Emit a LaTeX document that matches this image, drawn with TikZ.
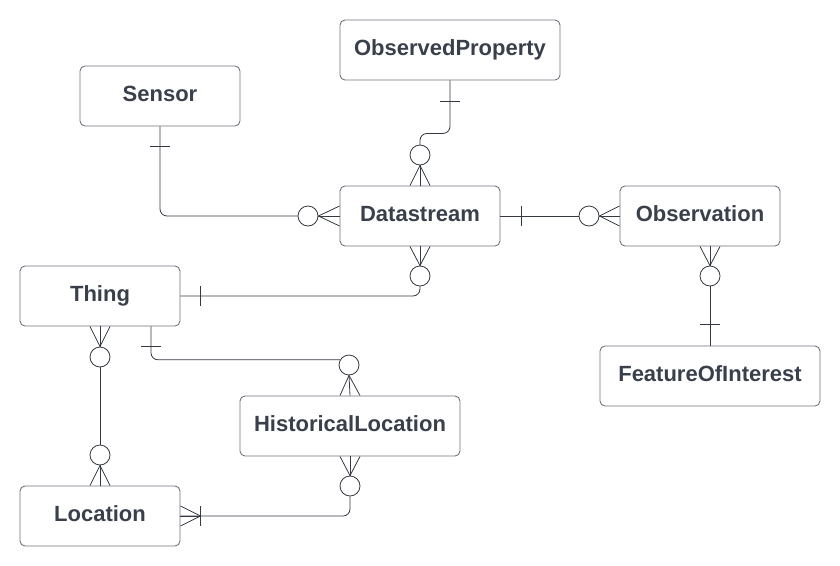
\documentclass[tikz,border=0pt]{standalone}
\usepackage{fontspec}
\setmainfont{Liberation Sans}
\usepackage{tikz}
\usetikzlibrary{calc}
\definecolor{boxgray}{RGB}{112,116,124}
\definecolor{linedark}{RGB}{52,57,66}
\definecolor{textdark}{RGB}{58,64,75}
\tikzset{
  entity/.style={rectangle, draw=boxgray, fill=white,
    rounded corners=5pt, minimum width=160pt, minimum height=60pt,
    text height=16pt, text depth=6pt,
    font=\bfseries\fontsize{22}{26}\selectfont, text=textdark, line width=0.9pt},
  wide/.style={minimum width=220pt},
  zero/.style={circle, draw=linedark, fill=white,
    minimum size=20pt, inner sep=0pt, line width=0.8pt},
  rel/.style={draw=linedark, line width=0.8pt, rounded corners=7pt},
  bar/.style={draw=linedark, line width=0.8pt}
}

\begin{document}
\begin{tikzpicture}[x=1pt, y=-1pt]
  \useasboundingbox (0,0) rectangle (840,565);
  % entities
  \node[entity, wide] (op) at (450,50) {ObservedProperty};
  \node[entity] (sensor) at (160,96) {Sensor};
  \node[entity] (ds) at (420,216) {Datastream};
  \node[entity] (obs) at (700,216) {Observation};
  \node[entity, wide] (foi) at (710,376) {FeatureOfInterest};
  \node[entity] (thing) at (100,296) {Thing};
  \node[entity, wide] (hl) at (350,426) {HistoricalLocation};
  \node[entity] (loc) at (100,516) {Location};

  % ObservedProperty -- Datastream
  \draw[rel] (op.south) -- ++(0,53) -| (420,145);
  \draw[bar] ($(op.south)+(-10,21)$) -- ++(20,0);
  \node[zero] (z1) at (420,155) {};
  \foreach \d in {-10,0,10}
    \draw[bar] (z1.south) -- ($(ds.north)+(\d,0)$);

  % Sensor -- Datastream
  \node[zero] (z2) at (308,216) {};
  \draw[rel] (sensor.south) |- (z2.west);
  \draw[bar] ($(sensor.south)+(-10,20)$) -- ++(20,0);
  \foreach \d in {-10,0,10}
    \draw[bar] (z2.east) -- ($(ds.west)+(0,\d)$);

  % Datastream -- Observation
  \node[zero] (z3) at (589,216) {};
  \draw[rel] (ds.east) -- (z3.west);
  \draw[bar] ($(ds.east)+(21,-10)$) -- ++(0,20);
  \foreach \d in {-10,0,10}
    \draw[bar] (z3.east) -- ($(obs.west)+(0,\d)$);

  % Datastream -- Thing
  \node[zero] (z4) at (420,276) {};
  \foreach \d in {-10,0,10}
    \draw[bar] (z4.north) -- ($(ds.south)+(\d,0)$);
  \draw[rel] (z4.south) |- (thing.east);
  \draw[bar] ($(thing.east)+(20,-10)$) -- ++(0,20);

  % Observation -- FeatureOfInterest
  \node[zero] (z9) at (710,276) {};
  \foreach \d in {0,10,20}
    \draw[bar] (z9.north) -- ($(obs.south)+(\d,0)$);
  \draw[rel] (z9.south) -- (foi.north);
  \draw[bar] ($(foi.north)+(-10,-21)$) -- ++(20,0);

  % Thing -- HistoricalLocation
  \node[zero] (z5) at (349,365) {};
  \draw[rel] ($(thing.south)+(51,0)$) |- (z5.150);
  \draw[bar] ($(thing.south)+(41,20)$) -- ++(20,0);
  \foreach \d in {-10,0,10}
    \draw[bar] (z5.south) -- ($(hl.north)+(\d,0)$);

  % Thing -- Location
  \node[zero] (z6) at (100,357) {};
  \node[zero] (z7) at (100,455) {};
  \foreach \d in {-10,0,10} {
    \draw[bar] (z6.north) -- ($(thing.south)+(\d,0)$);
    \draw[bar] (z7.south) -- ($(loc.north)+(\d,0)$);
  }
  \draw[rel] (z6.south) -- (z7.north);

  % HistoricalLocation -- Location
  \node[zero] (z8) at (350,486) {};
  \foreach \d in {-10,0,10}
    \draw[bar] (z8.north) -- ($(hl.south)+(\d,0)$);
  \draw[rel] (z8.south) |- (loc.east);
  \draw[bar] ($(loc.east)+(20,-10)$) -- ++(0,20);
  \foreach \d in {-10,0,10}
    \draw[bar] ($(loc.east)+(20,0)$) -- ($(loc.east)+(0,\d)$);
\end{tikzpicture}
\end{document}
